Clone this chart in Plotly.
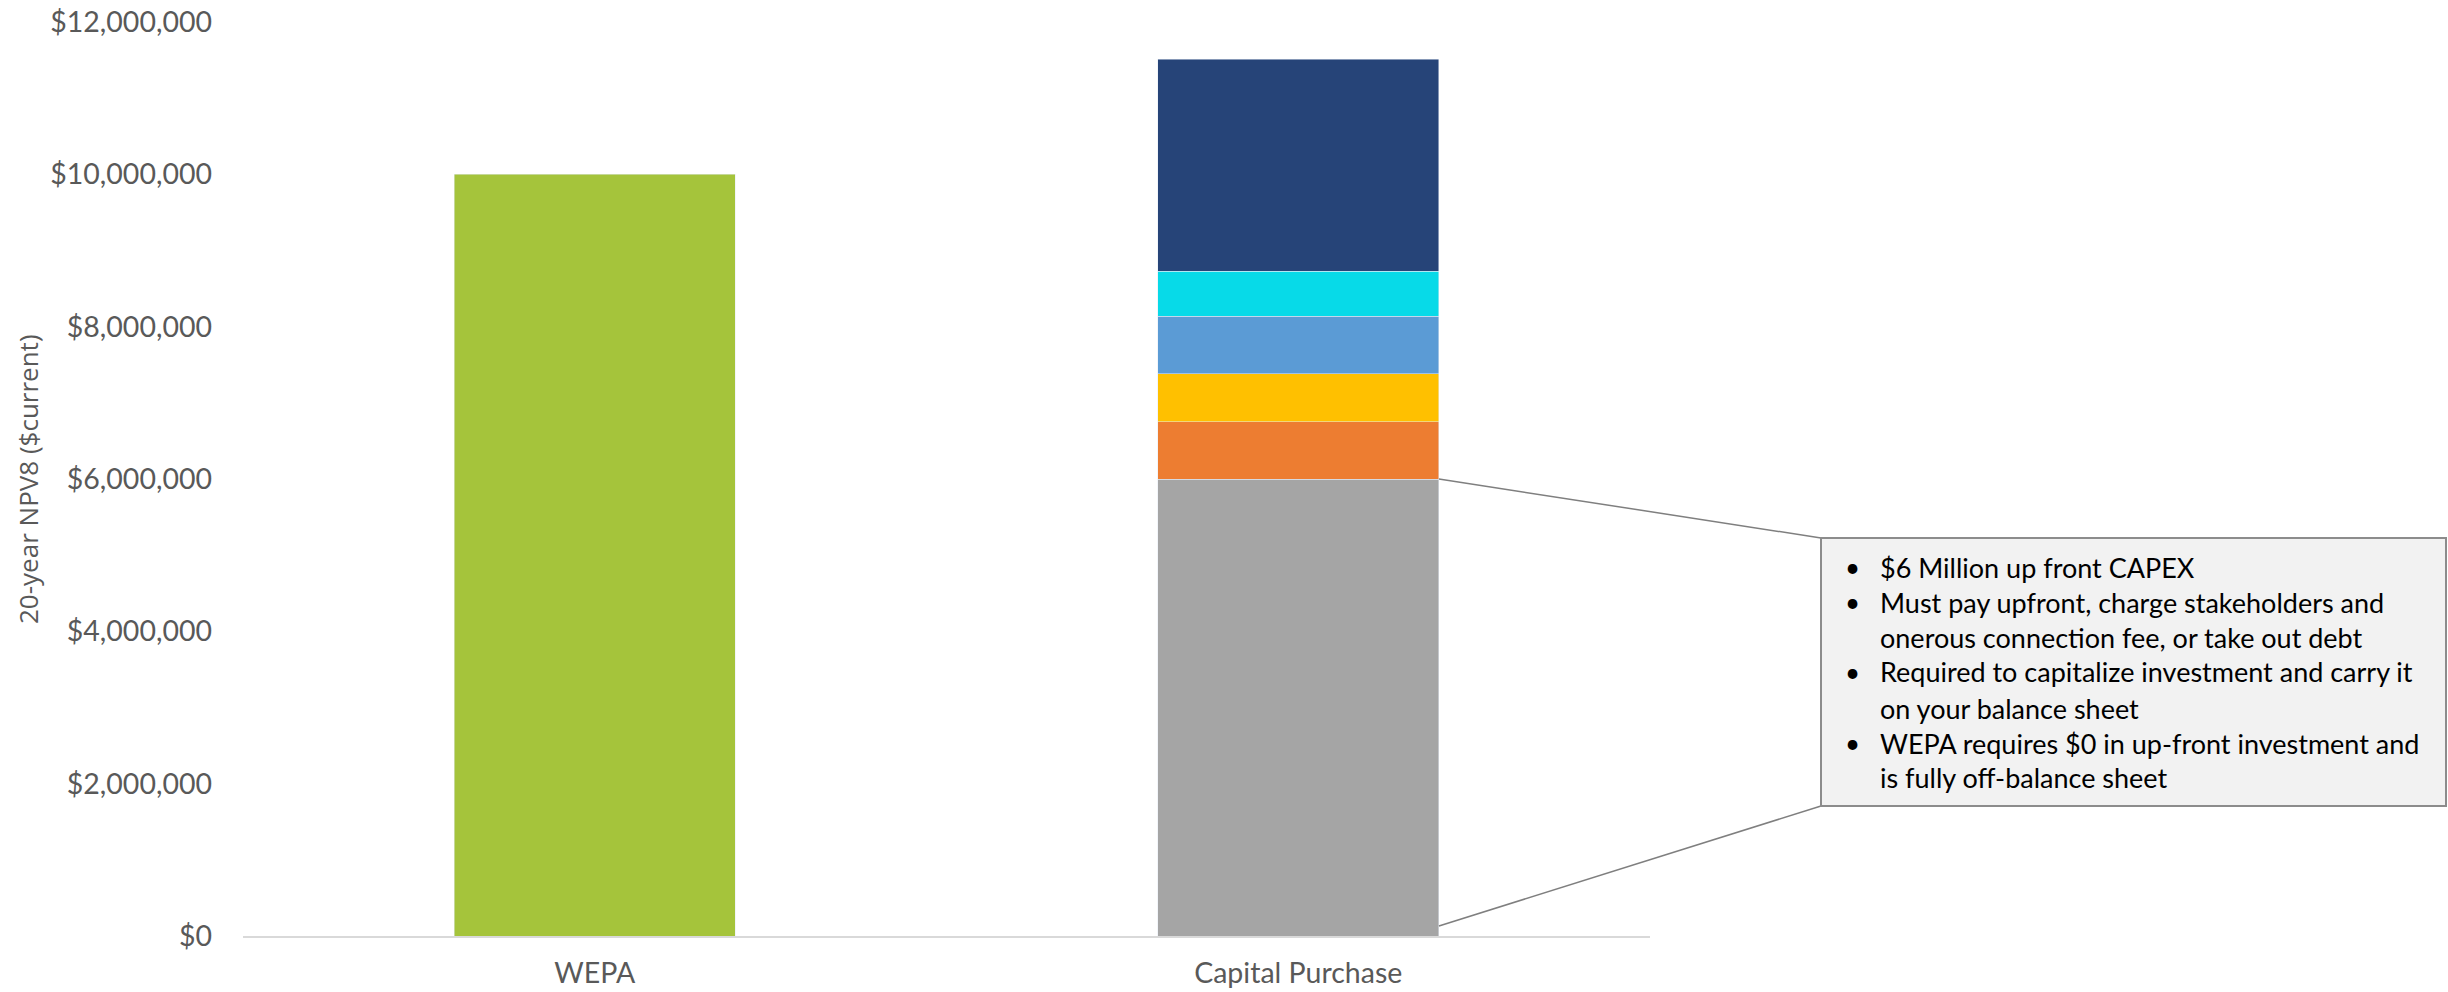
import plotly.graph_objects as go

# ---- data ----
categories = ["WEPA", "Capital Purchase"]
wepa_value = [10_000_000, None]
segment_names = ["CAPEX", "Component 2", "Component 3", "Component 4", "Component 5", "Component 6"]
segment_values = [6_000_000, 750_000, 630_000, 760_000, 590_000, 2_780_000]
segment_colors = ["#A5A5A5", "#ED7D31", "#FFC000", "#5B9BD5", "#07DAE8", "#264478"]
wepa_color = "#A5C43B"
y_tickvals = [0, 2_000_000, 4_000_000, 6_000_000, 8_000_000, 10_000_000, 12_000_000]
y_ticktext = ["$0", "$2,000,000", "$4,000,000", "$6,000,000", "$8,000,000", "$10,000,000", "$12,000,000"]
y_title = "20-year NPV8 ($current)"
callout_lines = [
    ("•", "$6 Million up front CAPEX"),
    ("•", "Must pay upfront, charge stakeholders and"),
    ("", "onerous connection fee, or take out debt"),
    ("•", "Required to capitalize investment and carry it"),
    ("", "on your balance sheet"),
    ("•", "WEPA requires $0 in up-front investment and"),
    ("", "is fully off-balance sheet"),
]

W, H = 2448, 992
L, R, T, B = 243, 798, 22, 56
plot_w = W - L - R
plot_h = H - T - B
bar_width = 0.4
y_max = 12_000_000

fig = go.Figure()
fig.add_trace(go.Bar(x=categories, y=wepa_value, marker_color=wepa_color,
                     width=bar_width, name="WEPA", showlegend=False))
for n, v, c in zip(segment_names, segment_values, segment_colors):
    fig.add_trace(go.Bar(x=[categories[1]], y=[v], marker_color=c, width=bar_width,
                         name=n, showlegend=False))

def px_to_paper_x(px):
    return (px - L) / plot_w

def px_to_paper_y(py):
    return (H - B - py) / plot_h

# callout box
box_x0, box_x1 = px_to_paper_x(1821), px_to_paper_x(2446)
box_y0, box_y1 = px_to_paper_y(806), px_to_paper_y(538)
# bar corner in paper coords (derived from data scale)
bar_right = (1 + bar_width / 2 + 0.5) / 2
gray_top = segment_values[0] / y_max

shapes = [
    dict(type="line", xref="paper", yref="paper", x0=bar_right, y0=gray_top,
         x1=box_x0, y1=box_y1, line=dict(color="#7F7F7F", width=1.5)),
    dict(type="line", xref="paper", yref="paper", x0=bar_right, y0=0.011,
         x1=box_x0, y1=box_y0, line=dict(color="#7F7F7F", width=1.5)),
    dict(type="rect", xref="paper", yref="paper", x0=box_x0, y0=box_y0,
         x1=box_x1, y1=box_y1, fillcolor="#F2F2F2", line=dict(color="#8C8C8C", width=2)),
]

annotations = []
line_y = [567, 602, 637, 672, 708, 743, 777]
for (bullet, text), py in zip(callout_lines, line_y):
    if bullet:
        annotations.append(dict(xref="paper", yref="paper", x=px_to_paper_x(1843), y=px_to_paper_y(py),
                                text=bullet, showarrow=False, xanchor="left", yanchor="middle",
                                font=dict(family="Lato", size=26, color="#000000")))
    annotations.append(dict(xref="paper", yref="paper", x=px_to_paper_x(1878), y=px_to_paper_y(py),
                            text=text, showarrow=False, xanchor="left", yanchor="middle",
                            font=dict(family="Lato", size=27, color="#000000")))

annotations.append(dict(xref="paper", yref="paper", x=px_to_paper_x(28), y=0.5, text=y_title,
                        textangle=-90, showarrow=False, xanchor="center", yanchor="middle",
                        font=dict(family="Open Sans", size=26, color="#595959")))

fig.update_layout(
    width=W, height=H, autosize=False,
    margin=dict(l=L, r=R, t=T, b=B, pad=0, autoexpand=False),
    barmode="stack", bargap=0.6,
    plot_bgcolor="white", paper_bgcolor="white",
    showlegend=False,
    shapes=shapes, annotations=annotations,
    xaxis=dict(range=[-0.5, 1.5], showgrid=False, showline=True, linecolor="#D9D9D9", linewidth=2,
               ticks="", ticklabelstandoff=11, zeroline=False, automargin=False,
               tickfont=dict(family="Lato", size=28.5, color="#595959")),
    yaxis=dict(range=[0, y_max], tickvals=y_tickvals, ticktext=y_ticktext, showgrid=False,
               showline=False, zeroline=False, ticks="", ticklabelstandoff=30, automargin=False,
               tickfont=dict(family="Lato", size=28.5, color="#595959")),
)

fig.write_html("out.html", config={"displayModeBar": False},
               post_script="document.body.style.margin='0';document.body.style.overflow='hidden';")
